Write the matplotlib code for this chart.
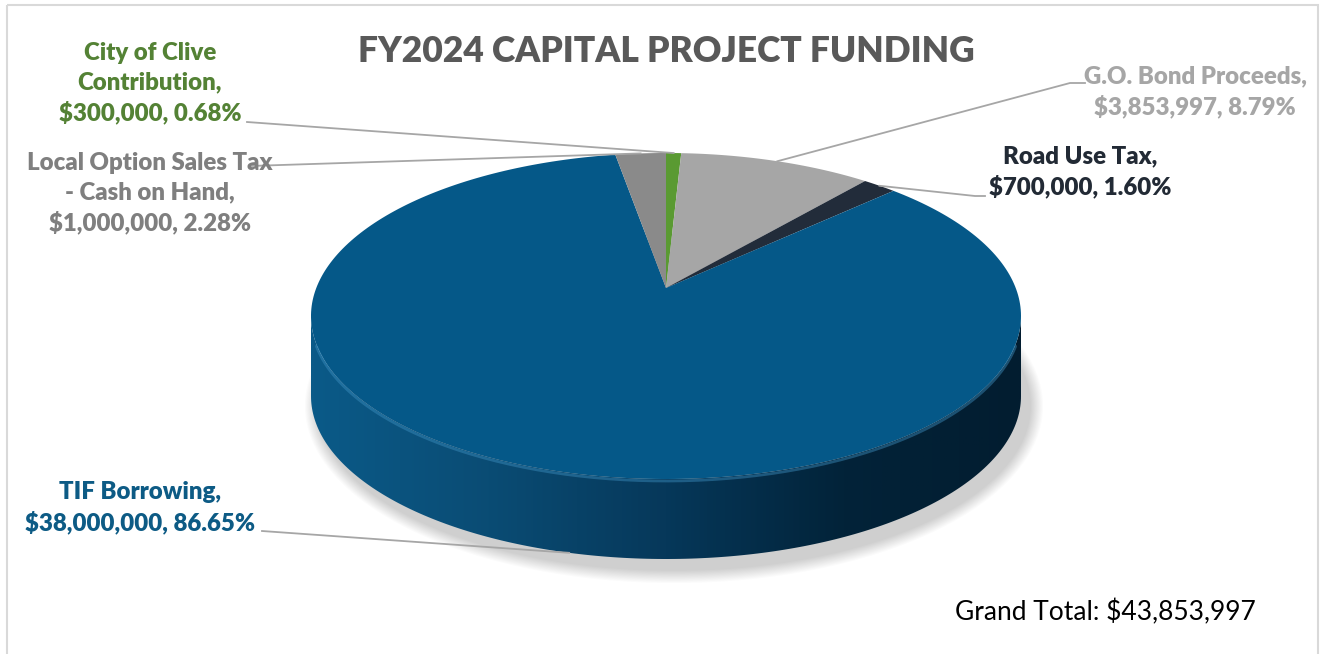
import numpy as np
import matplotlib.pyplot as plt
from matplotlib.patches import Polygon, Rectangle, Ellipse
from matplotlib.colors import LinearSegmentedColormap

# --------------------------------------------------------------
#  data
# --------------------------------------------------------------
names = ["City of Clive\nContribution", "G.O. Bond Proceeds", "Road Use Tax",
         "TIF Borrowing", "Local Option Sales Tax\n- Cash on Hand"]
values = [300000, 3853997, 700000, 38000000, 1000000]
slice_colors = ["#5a9a32", "#a6a6a6", "#222c3a", "#055888", "#8a8a8a"]
label_colors = ["#548235", "#a6a6a6", "#222a35", "#0d5b85", "#7f7f7f"]
title = "FY2024 CAPITAL PROJECT FUNDING"

total = sum(values)

plt.rcParams['font.family'] = ['Lato', 'DejaVu Sans']

fig = plt.figure(figsize=(13.25, 6.54), dpi=100)
ax = fig.add_axes([0, 0, 1, 1])
ax.set_xlim(0, 1325)
ax.set_ylim(654, 0)
ax.axis("off")

# chart frame
ax.add_patch(Rectangle((7, 5), 1311, 660, fill=False, ec="#d9d9d9", lw=1.5))

# pie geometry (pixel space)
cx, cy = 666, 316
ra, rb = 355, 163
depth = 80
apex = (666, 288)


def rim(phi, dy=0):
    p = np.radians(phi)
    return cx + ra * np.cos(p), cy - rb * np.sin(p) + dy


# slice angles, clockwise from 12 o'clock
fracs = np.array(values) / total
ends = 90 - np.cumsum(fracs) * 360
starts = np.concatenate([[90], ends[:-1]])
mids = (starts + ends) / 2

# soft shadow
for k in range(12):
    grow = 4 + k * 2.2
    ax.add_patch(Ellipse((cx + 8, cy + depth + 10), 2 * ra + grow, 2 * rb + grow,
                         fc="#000000", ec="none", alpha=0.016, zorder=1))

# side wall (front half), with horizontal gradient
phis = np.linspace(180, 360, 200)
top_edge = [rim(p) for p in phis]
bot_edge = [rim(p, depth) for p in phis[::-1]]
side = Polygon(top_edge + bot_edge, closed=True, fc="none", ec="none", zorder=2)
ax.add_patch(side)
side_cmap = LinearSegmentedColormap.from_list(
    "side", ["#0b5a88", "#0a4c74", "#06385a", "#022339", "#021d30"])
grad = np.linspace(0, 1, 400).reshape(1, -1)
im = ax.imshow(grad, cmap=side_cmap, aspect="auto",
               extent=(cx - ra, cx + ra, cy + rb + depth + 2, cy - 5), zorder=2)
im.set_clip_path(side)

# top surface wedges
for s, e, c in zip(starts, ends, slice_colors):
    arc = [rim(p) for p in np.linspace(s, e, 300)]
    ax.add_patch(Polygon([apex] + arc, closed=True, fc=c, ec="none", zorder=3))

# bevel highlight on the front rim
hl = np.array([rim(p, 2) for p in np.linspace(190, 350, 200)])
ax.plot(hl[:, 0], hl[:, 1], color="#3d8fc0", lw=2.0, alpha=0.45, zorder=4,
        solid_capstyle="round")

# title
ax.text(666, 52, title, ha="center", va="center", fontsize=25.5,
        fontweight="heavy", color="#595959", zorder=6)

# data labels
label_pos = [(150, 83), (1195, 92), (1080, 172), (140, 508), (150, 193)]
stubs = [[(247, 122)],
         [(1085, 83), (1070, 83)],
         [(985, 196), (975, 196)],
         [(262, 531)],
         [(250, 166)]]
for i, (n, v) in enumerate(zip(names, values)):
    txt = f"{n},\n${v:,.0f}, {v / total * 100:.2f}%"
    ax.text(*label_pos[i], txt, ha="center", va="center", fontsize=17.3,
            fontweight="heavy", color=label_colors[i], linespacing=1.4, zorder=6)
    dy = depth if names[i].startswith("TIF") else 0
    end = rim(mids[i], dy)
    pts = np.array(stubs[i] + [end])
    ax.plot(pts[:, 0], pts[:, 1], color="#a6a6a6", lw=1.3, zorder=5)

ax.text(1105, 612, f"Grand Total: ${total:,.0f}", ha="center", va="center",
        fontsize=19, color="#000000", zorder=6)

fig.savefig("out.png", dpi=100)
